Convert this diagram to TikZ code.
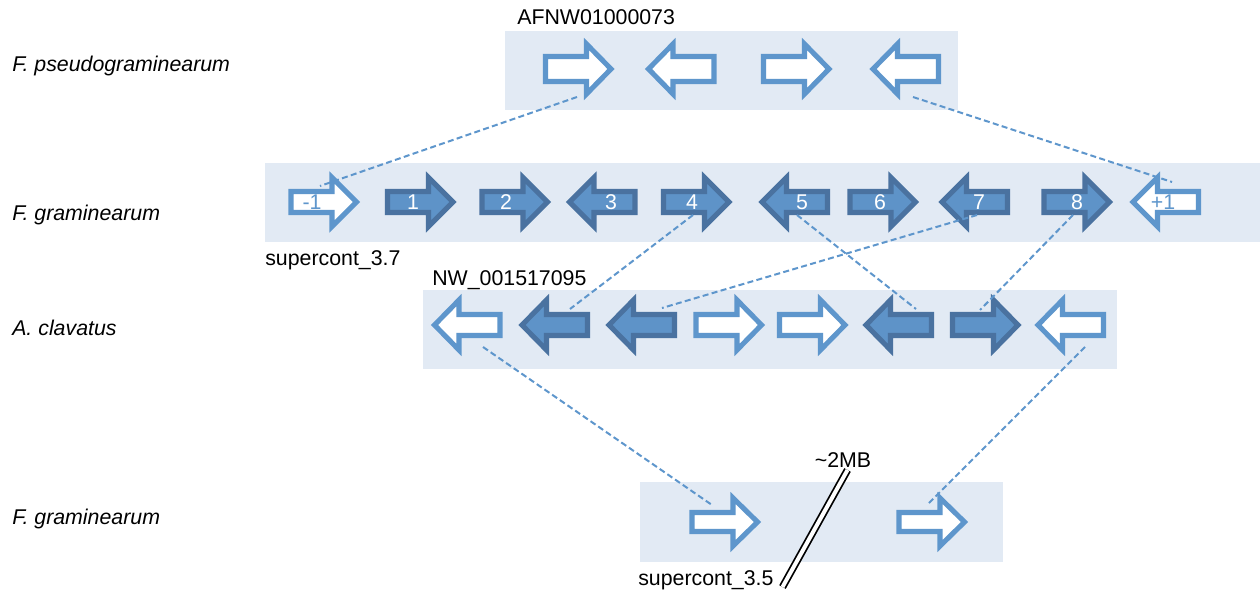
\documentclass[tikz,border=0pt]{standalone}
\usepackage{fontspec}
\setmainfont{Liberation Sans}
\usetikzlibrary{calc}
\definecolor{bandc}{HTML}{E2EAF4}
\definecolor{lblue}{HTML}{5E96CC}
\definecolor{dline}{HTML}{4A72A0}
\definecolor{dfill}{HTML}{5E93C8}
\tikzset{
  band/.style={fill=bandc, draw=none},
  light/.style={draw=lblue, fill=white, line width=3.8pt, line join=miter},
  dark/.style={draw=dline, fill=dfill, line width=3.8pt, line join=miter},
  conn/.style={draw=lblue, line width=1.5pt, dash pattern=on 4.5pt off 2.5pt},
  txt/.style={inner sep=0pt, font=\fontsize{16pt}{19pt}\selectfont, text=black},
  species/.style={txt, anchor=base west, font=\fontsize{16pt}{19pt}\selectfont\itshape},
  num/.style={txt, anchor=base, text=white},
  numl/.style={txt, anchor=base, text=lblue},
}
\newcommand{\garr}[7]{%
  \begin{scope}[shift={(#2,#3)}, xscale=#4]
    \draw[#5] (-33,-#6) -- (8,-#6) -- (8,-#7) -- (32.5,0) -- (8,#7) -- (8,#6) -- (-33,#6) -- cycle;
  \end{scope}
  \coordinate (#1) at (#2,#3);
}
\begin{document}
\begin{tikzpicture}[x=0.75pt, y=-0.75pt]
\useasboundingbox (0,0) rectangle (1260,592);
% bands
\fill[band] (505,31) rectangle (958,110);
\fill[band] (265,163) rectangle (1260,242);
\fill[band] (423,290) rectangle (1117,369);
\fill[band] (640,482) rectangle (1003,562);
% species labels
\node[species] (s1) at (12,72) {F. pseudograminearum};
\node[species] (s2) at (12,220) {F. graminearum};
\node[species] (s3) at (12,335) {A. clavatus};
\node[species] (s4) at (12,524) {F. graminearum};
% contig labels
\node[txt, anchor=base west] (l1) at (517,25) {AFNW01000073};
\node[txt, anchor=base west] (l2) at (265,265) {supercont\_3.7};
\node[txt, anchor=base west] (l3) at (432,285) {NW\_001517095};
\node[txt, anchor=base west] (l4) at (638,585) {supercont\_3.5};
\node[txt, anchor=base] (l5) at (843,467) {\textasciitilde 2MB};
% top row
\garr{t1}{578.5}{69}{1}{light}{12.5}{25}
\garr{t2}{681}{69}{-1}{light}{12.5}{25}
\garr{t3}{796.5}{69}{1}{light}{12.5}{25}
\garr{t4}{905.5}{69}{-1}{light}{12.5}{25}
% row 2
\garr{m1}{324}{202}{1}{light}{10.5}{24.5}
\garr{a1}{420.5}{202}{1}{dark}{10.5}{24.5}
\garr{a2}{515}{202}{1}{dark}{10.5}{24.5}
\garr{a3}{602}{202}{-1}{dark}{10.5}{24.5}
\garr{a4}{696.5}{202}{1}{dark}{10.5}{24.5}
\garr{a5}{794.5}{202}{-1}{dark}{10.5}{24.5}
\garr{a6}{883}{202}{1}{dark}{10.5}{24.5}
\garr{a7}{974.5}{202}{-1}{dark}{10.5}{24.5}
\garr{a8}{1077}{202}{1}{dark}{10.5}{24.5}
\garr{p1}{1165.5}{202}{-1}{light}{10.5}{24.5}
\node[numl] (m1l) at (312,209) {-1};
\node[num] (a1l) at (413,209) {1};
\node[num] (a2l) at (506,209) {2};
\node[num] (a3l) at (611,209) {3};
\node[num] (a4l) at (692,209) {4};
\node[num] (a5l) at (802,209) {5};
\node[num] (a6l) at (880,209) {6};
\node[num] (a7l) at (979,209) {7};
\node[num] (a8l) at (1077,209) {8};
\node[numl] (p1l) at (1163,209) {+1};
% row 3
\garr{c1}{467}{325}{-1}{light}{10.5}{25}
\garr{c2}{554.5}{325}{-1}{dark}{10.5}{25}
\garr{c3}{641.5}{325}{-1}{dark}{10.5}{25}
\garr{c4}{729}{325}{1}{light}{10.5}{25}
\garr{c5}{812.5}{325}{1}{light}{10.5}{25}
\garr{c6}{898.5}{325}{-1}{dark}{10.5}{25}
\garr{c7}{985.5}{325}{1}{dark}{10.5}{25}
\garr{c8}{1070.5}{325}{-1}{light}{10.5}{25}
% row 4
\garr{d1}{725}{522}{1}{light}{9.5}{24}
\garr{d2}{932}{522}{1}{light}{9.5}{24}
% connectors
\draw[conn] ($(t1)+(-1.5,28)$) -- ($(m1)+(-4,-16)$);
\draw[conn] ($(t4)+(7.5,28)$) -- ($(p1)+(6.5,-20)$);
\draw[conn] ($(a4)+(-3.5,13)$) -- ($(c2)+(15.5,-16)$);
\draw[conn] ($(a7)+(2.5,13)$) -- ($(c3)+(20.5,-17)$);
\draw[conn] ($(a5)+(2.5,13)$) -- ($(c6)+(17.5,-16)$);
\draw[conn] ($(a8)+(-4,13)$) -- ($(c7)+(-5.5,-15)$);
\draw[conn] ($(c1)+(16,22)$) -- ($(d1)+(-13,-17)$);
\draw[conn] ($(c8)+(14.5,22)$) -- ($(d2)+(-5,-17)$);
% break mark
\coordinate (b1) at (782.5,587);
\coordinate (b2) at (847.5,470);
\draw[line width=1.3pt, double=white, double distance=3pt] (b1) -- (b2);
\end{tikzpicture}
\end{document}
